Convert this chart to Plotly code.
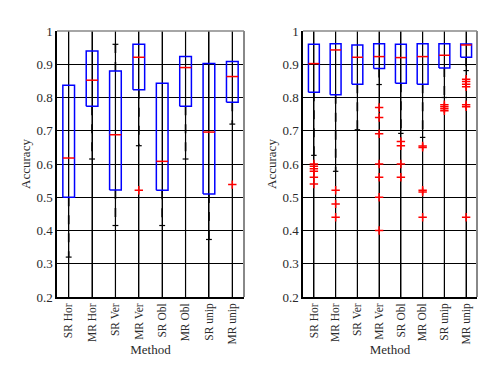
import plotly.graph_objects as go

methods = ["SR Hor", "MR Hor", "SR Ver", "MR Ver", "SR Obl", "MR Obl", "SR unip", "MR unip"]
y_ticks = [0.2, 0.3, 0.4, 0.5, 0.6, 0.7, 0.8, 0.9, 1.0]
y_tick_text = ["0.2", "0.3", "0.4", "0.5", "0.6", "0.7", "0.8", "0.9", "1"]
y_min, y_max = 0.2, 1.0

# Left panel statistics
left_q1 = [0.500, 0.774, 0.522, 0.823, 0.521, 0.774, 0.510, 0.786]
left_med = [0.618, 0.852, 0.688, 0.921, 0.608, 0.890, 0.696, 0.863]
left_q3 = [0.837, 0.940, 0.880, 0.960, 0.843, 0.923, 0.902, 0.908]
left_lo = [0.320, 0.615, 0.415, 0.655, 0.415, 0.615, 0.373, 0.720]
left_hi = [0.837, 0.940, 0.960, 0.960, 0.843, 0.923, 0.902, 0.908]
left_out = [[], [], [], [0.521], [], [], [], [0.538]]

# Right panel statistics
right_q1 = [0.816, 0.808, 0.840, 0.887, 0.843, 0.840, 0.889, 0.921]
right_med = [0.902, 0.943, 0.921, 0.923, 0.920, 0.923, 0.927, 0.958]
right_q3 = [0.960, 0.962, 0.958, 0.962, 0.960, 0.962, 0.962, 0.961]
right_lo = [0.626, 0.578, 0.703, 0.839, 0.692, 0.680, 0.800, 0.881]
right_hi = [0.960, 0.962, 0.958, 0.962, 0.960, 0.962, 0.962, 0.961]
right_out = [
    [0.600, 0.593, 0.586, 0.578, 0.560, 0.540],
    [0.521, 0.480, 0.440],
    [],
    [0.770, 0.740, 0.691, 0.600, 0.560, 0.500, 0.400],
    [0.668, 0.655, 0.600, 0.560],
    [0.654, 0.650, 0.521, 0.516, 0.440],
    [0.778, 0.772, 0.766, 0.760],
    [0.855, 0.848, 0.840, 0.832, 0.778, 0.772, 0.440],
]

BOX_HALF = 0.25
CAP_HALF = 0.125
FONT = "Times New Roman"
GRID = "#000000"
TEXT = "#2a2a2a"

fig = go.Figure()


def add_panel(q1, med, q3, lo, hi, outs, xa, ya):
    pos = list(range(1, len(methods) + 1))
    # vertical grid lines at category positions (one trace per line)
    for p in pos:
        fig.add_trace(go.Scatter(x=[p, p], y=[y_min, y_max], mode="lines",
                                 xaxis=xa, yaxis=ya,
                                 line=dict(color=GRID, width=1.2, simplify=False),
                                 cliponaxis=False,
                                 showlegend=False, hoverinfo="skip"))
    # whiskers
    wx, wy = [], []
    for p, a, b, l, h in zip(pos, q1, q3, lo, hi):
        wx += [p, p, None, p, p, None]
        wy += [b, h, None, a, l, None]
    fig.add_trace(go.Scatter(x=wx, y=wy, mode="lines", xaxis=xa, yaxis=ya,
                             line=dict(color="black", width=1.6, dash="dash"),
                             showlegend=False, hoverinfo="skip"))
    # caps
    cx, cy = [], []
    for p, l, h, b in zip(pos, lo, hi, q3):
        cx += [p - CAP_HALF, p + CAP_HALF, None]
        cy += [l, l, None]
        if h > b + 1e-6:
            cx += [p - CAP_HALF, p + CAP_HALF, None]
            cy += [h, h, None]
    fig.add_trace(go.Scatter(x=cx, y=cy, mode="lines", xaxis=xa, yaxis=ya,
                             line=dict(color="black", width=1.2),
                             showlegend=False, hoverinfo="skip"))
    # boxes
    bx, by = [], []
    for p, a, b in zip(pos, q1, q3):
        bx += [p - BOX_HALF, p + BOX_HALF, p + BOX_HALF, p - BOX_HALF, p - BOX_HALF, None]
        by += [a, a, b, b, a, None]
    fig.add_trace(go.Scatter(x=bx, y=by, mode="lines", xaxis=xa, yaxis=ya,
                             line=dict(color="#0000ff", width=1.5),
                             showlegend=False, hoverinfo="skip"))
    # medians
    mx, my = [], []
    for p, m in zip(pos, med):
        mx += [p - BOX_HALF, p + BOX_HALF, None]
        my += [m, m, None]
    fig.add_trace(go.Scatter(x=mx, y=my, mode="lines", xaxis=xa, yaxis=ya,
                             line=dict(color="#ff0000", width=1.5),
                             showlegend=False, hoverinfo="skip"))
    # outliers
    ox, oy = [], []
    for p, o in zip(pos, outs):
        ox += [p] * len(o)
        oy += o
    fig.add_trace(go.Scatter(x=ox, y=oy, mode="markers", xaxis=xa, yaxis=ya,
                             marker=dict(symbol="cross-thin", size=6, color="#ff0000",
                                         line=dict(color="#ff0000", width=1.5)),
                             showlegend=False, hoverinfo="skip"))


add_panel(left_q1, left_med, left_q3, left_lo, left_hi, left_out, "x", "y")
add_panel(right_q1, right_med, right_q3, right_lo, right_hi, right_out, "x2", "y2")

W, H = 488, 368
ydom = [1 - 289 / H, 1 - 23 / H]
xdom1 = [49 / W, 236 / W]
xdom2 = [295 / W, 469 / W]

xcommon = dict(range=[0.5, 8.5], tickvals=list(range(1, 9)), ticktext=methods,
               tickangle=-90, showgrid=True, gridcolor=GRID, gridwidth=1,
               showline=True, linecolor="black", linewidth=1.5, ticks="inside",
               ticklen=4, tickcolor="black", zeroline=False,
               tickfont=dict(family=FONT, size=11.5, color=TEXT),
               title=dict(text="Method", font=dict(family=FONT, size=13, color=TEXT), standoff=1),
               automargin=False, fixedrange=True)
ycommon = dict(range=[y_min, y_max], tickvals=y_ticks, ticktext=y_tick_text,
               showgrid=True, gridcolor=GRID, gridwidth=1,
               showline=True, linecolor="black", linewidth=1.5, ticks="inside",
               ticklen=4, tickcolor="black", zeroline=False,
               tickfont=dict(family=FONT, size=13, color=TEXT),
               title=dict(text="Accuracy", font=dict(family=FONT, size=13, color=TEXT), standoff=3),
               automargin=False, fixedrange=True)

fig.update_layout(
    width=W, height=H,
    margin=dict(l=0, r=0, t=0, b=0),
    paper_bgcolor="white", plot_bgcolor="white",
    font=dict(family=FONT),
    xaxis=dict(domain=xdom1, anchor="y", **xcommon),
    yaxis=dict(domain=ydom, anchor="x", **ycommon),
    xaxis2=dict(domain=xdom2, anchor="y2", **xcommon),
    yaxis2=dict(domain=ydom, anchor="x2", **ycommon),
)

for xr, yr in [("x", "y"), ("x2", "y2")]:
    fig.add_shape(type="line", xref=f"{xr} domain", yref=f"{yr} domain",
                  x0=0, x1=1, y0=1, y1=1, line=dict(color="#888888", width=1.5))
    fig.add_shape(type="line", xref=f"{xr} domain", yref=f"{yr} domain",
                  x0=1, x1=1, y0=0, y1=1, line=dict(color="#888888", width=2))

fig.write_html("out.html")
